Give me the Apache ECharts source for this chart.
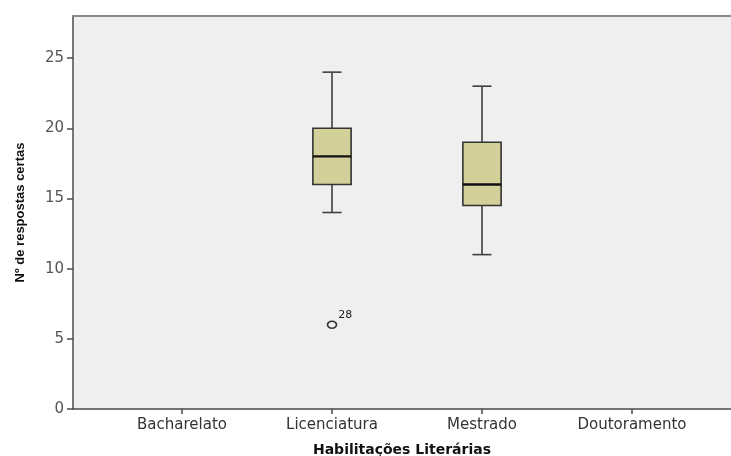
<!DOCTYPE html>
<html>
<head>
<meta charset="utf-8">
<script src="https://cdn.jsdelivr.net/npm/echarts@6/dist/echarts.min.js"></script>
<style>
  html, body { margin: 0; padding: 0; background: #fff; }
  #chart { width: 731px; height: 456px; }
</style>
</head>
<body>
<div id="chart"></div>
<script>
// Nº de respostas certas por habilitação literária (box plot)
const categories = ['Bacharelato', 'Licenciatura', 'Mestrado', 'Doutoramento'];
const whiskerLow  = [null, 14, 11,   null];
const quartile1   = [null, 16, 14.5, null];
const medians     = [null, 18, 16,   null];
const quartile3   = [null, 20, 19,   null];
const whiskerHigh = [null, 24, 23,   null];
// outliers: category index, value, case number
const outlierCategory = [1];
const outlierValue = [6];
const outlierCase = ['28'];
const yTicks = [0, 5, 10, 15, 20, 25];

const Y_MAX = 28;
const labelFont = 'DejaVu Sans';

const boxData = [];
categories.forEach((c, i) => {
  if (medians[i] != null) {
    boxData.push([i, whiskerLow[i], quartile1[i], medians[i], quartile3[i], whiskerHigh[i]]);
  }
});
const outlierData = outlierCategory.map((c, i) => ({ value: [c, outlierValue[i]], caseNo: outlierCase[i] }));

function renderBox(params, api) {
  const idx = api.value(0);
  const band = api.size([1, 0])[0];
  const boxW = band * 0.255;
  const capW = boxW * 0.5;
  const pLow = api.coord([idx, api.value(1)]);
  const pQ1 = api.coord([idx, api.value(2)]);
  const pMed = api.coord([idx, api.value(3)]);
  const pQ3 = api.coord([idx, api.value(4)]);
  const pHigh = api.coord([idx, api.value(5)]);
  const x = pMed[0];
  const lineStyle = { stroke: '#3f3f3f', lineWidth: 1.6 };
  return {
    type: 'group',
    children: [
      { type: 'line', shape: { x1: x, y1: pHigh[1], x2: x, y2: pQ3[1] }, style: lineStyle },
      { type: 'line', shape: { x1: x, y1: pQ1[1], x2: x, y2: pLow[1] }, style: lineStyle },
      { type: 'line', shape: { x1: x - capW / 2, y1: pHigh[1], x2: x + capW / 2, y2: pHigh[1] }, style: lineStyle },
      { type: 'line', shape: { x1: x - capW / 2, y1: pLow[1], x2: x + capW / 2, y2: pLow[1] }, style: lineStyle },
      { type: 'rect', shape: { x: x - boxW / 2, y: pQ3[1], width: boxW, height: pQ1[1] - pQ3[1] },
        style: { fill: '#d3cf98', stroke: '#333', lineWidth: 1.6 } },
      { type: 'line', shape: { x1: x - boxW / 2, y1: pMed[1], x2: x + boxW / 2, y2: pMed[1] },
        style: { stroke: '#111', lineWidth: 2.4 } }
    ]
  };
}

const chart = echarts.init(document.getElementById('chart'), null, { renderer: 'canvas' });
chart.setOption({
  animation: false,
  backgroundColor: '#ffffff',
  grid: [
    { left: 73, right: 0, top: 16, bottom: 47, show: true, backgroundColor: '#efefef', borderWidth: 0,
      containLabel: false, outerBoundsMode: 'none' },
    { left: 107, right: 24, top: 16, bottom: 47, containLabel: false, outerBoundsMode: 'none' }
  ],
  xAxis: [
    {
      gridIndex: 0, type: 'value', min: 0, max: 1, position: 'bottom',
      name: 'Habilitações Literárias', nameLocation: 'middle', nameGap: 34,
      nameTextStyle: { fontFamily: labelFont, fontWeight: 'bold', fontSize: 14, color: '#111' },
      axisLine: { show: true, lineStyle: { color: '#4a4a4a', width: 1.5 } },
      axisTick: { show: false }, axisLabel: { show: false }, splitLine: { show: false }
    },
    {
      gridIndex: 0, type: 'value', min: 0, max: 1, position: 'top',
      axisLine: { show: true, onZero: false, lineStyle: { color: '#8a8a8a', width: 2 } },
      axisTick: { show: false }, axisLabel: { show: false }, splitLine: { show: false }
    },
    {
      gridIndex: 1, type: 'category', data: categories, boundaryGap: true,
      axisLine: { show: false },
      axisTick: { show: true, alignWithLabel: true, length: 5, lineStyle: { color: '#4a4a4a', width: 1.5 } },
      axisLabel: { fontFamily: labelFont, fontSize: 15, color: '#333', margin: 9 },
      splitLine: { show: false }
    }
  ],
  yAxis: [
    {
      gridIndex: 0, type: 'value', min: 0, max: Y_MAX, interval: 5,
      name: 'Nº de respostas certas', nameLocation: 'middle', nameGap: 46, nameRotate: 90,
      nameTextStyle: { fontFamily: 'Liberation Sans', fontWeight: 'bold', fontSize: 13, color: '#111' },
      axisLine: { show: true, lineStyle: { color: '#4a4a4a', width: 1.5 } },
      axisTick: { show: true, length: 6, lineStyle: { color: '#4a4a4a', width: 1.5 } },
      axisLabel: {
        fontFamily: labelFont, fontSize: 15, color: '#555', margin: 9, showMaxLabel: false,
        formatter: v => (yTicks.indexOf(v) >= 0 ? String(v) : '')
      },
      splitLine: { show: false }
    },
    {
      gridIndex: 1, type: 'value', min: 0, max: Y_MAX, show: false
    }
  ],
  series: [
    {
      type: 'custom', xAxisIndex: 2, yAxisIndex: 1,
      renderItem: renderBox,
      encode: { x: 0, y: [1, 2, 3, 4, 5] },
      data: boxData, z: 3
    },
    {
      type: 'scatter', xAxisIndex: 2, yAxisIndex: 1,
      symbol: 'circle', symbolSize: [9, 7],
      itemStyle: { color: '#efefef', borderColor: '#333', borderWidth: 1.5, opacity: 1 },
      label: {
        show: true, position: 'right', offset: [-4, -10],
        formatter: p => p.data.caseNo,
        fontFamily: labelFont, fontSize: 11, color: '#222'
      },
      data: outlierData, z: 4
    }
  ]
});
</script>
</body>
</html>
